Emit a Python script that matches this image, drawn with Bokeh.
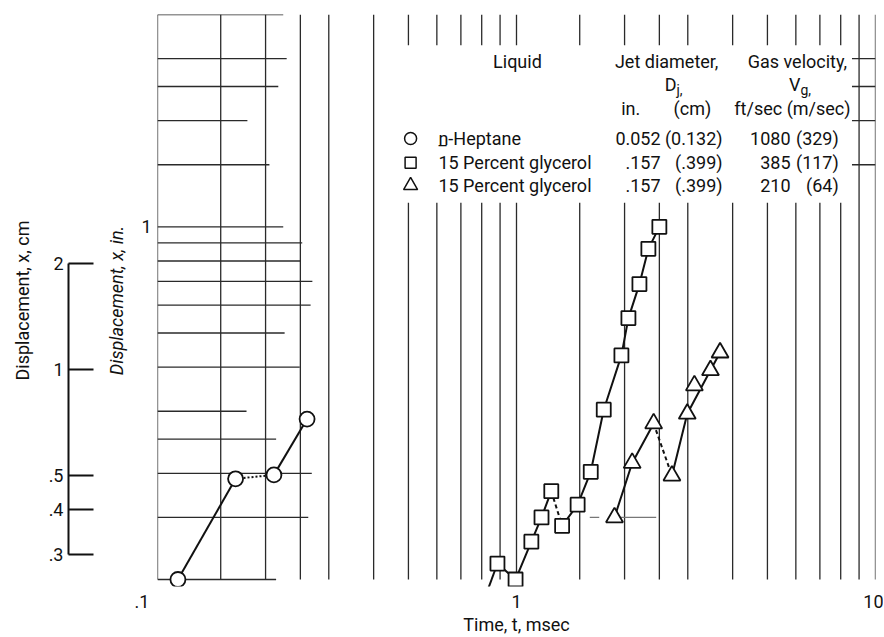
from bokeh.plotting import figure
from bokeh.models import Range1d, LogAxis, LinearAxis, LogScale, FixedTicker
from bokeh.core.properties import value
from bokeh.embed import file_html
from bokeh.resources import INLINE

# ---------------- data: time t (msec) vs displacement x (in.) ----------------
heptane_t = [0.114, 0.165, 0.211, 0.261]
heptane_x = [0.100, 0.193, 0.198, 0.285]

gly385_t = [0.885, 0.994, 1.10, 1.174, 1.25, 1.34, 1.48, 1.61, 1.75, 1.96, 2.05, 2.20, 2.33, 2.50]
gly385_x = [0.111, 0.100, 0.128, 0.150, 0.178, 0.142, 0.163, 0.202, 0.303, 0.432, 0.551, 0.688, 0.866, 1.00]
gly385_lead_t = [0.814]   # line enters from below the chart
gly385_lead_x = [0.088]

gly210_t = [1.875, 2.10, 2.41, 2.71, 2.99, 3.13, 3.47, 3.69]
gly210_x = [0.150, 0.214, 0.277, 0.197, 0.295, 0.355, 0.392, 0.440]

# line runs (indices into the series)
heptane_solid = [[0, 1], [2, 3]]
heptane_dotted = [[1, 2]]
gly385_solid = [[0, 1, 2, 3, 4], [5, 6, 7, 8, 9, 10, 11, 12, 13]]
gly385_dashed = [[4, 5]]
gly210_solid = [[0, 1, 2], [3, 4, 6, 7]]
gly210_dashed = [[2, 3]]

# legend table
legend_markers = ["circle", "square", "triangle"]
legend_liquids = ["n-Heptane", "15 Percent glycerol", "15 Percent glycerol"]
legend_dj_in = ["0.052", ".157", ".157"]
legend_dj_cm = ["(0.132)", "(.399)", "(.399)"]
legend_vg_fts = ["1080", "385", "210"]
legend_vg_ms = ["(329)", "(117)", "(64)"]

# axes
x_ticks = [0.1, 1, 10]
x_tick_labels = {0.1: ".1", 1: "1", 10: "10"}
y_in_ticks = [1]
cm_ticks = [0.3, 0.4, 0.5, 1, 2]
cm_labels = {0.3: ".3", 0.4: ".4", 0.5: ".5", 1: "1", 2: "2"}
CM_PER_IN = 2.54

# grid (partial, as printed)
grid_t_full = [0.1, 0.15, 0.2, 0.25, 0.3, 0.4, 9, 10]
grid_t_broken = [0.5, 0.6, 0.7, 0.8, 0.9, 1, 1.5, 2, 2.5, 3, 4, 5, 6, 7, 8]
grid_rows = [0.1, 0.15, 0.2, 0.25, 0.3, 0.4, 0.5, 0.6, 0.7, 0.8, 0.9, 1, 1.5, 2, 2.5, 3, 4]
grid_row_end = [0.214, 0.263, 0.269, 0.214, 0.177, 0.249, 0.226, 0.267, 0.27, 0.25, 0.253,
                0.224, 0.205, 0.178, 0.217, 0.229, 0.224]
grid_rows_right = [1.5, 2, 2.5, 3]

# ---------------- figure ----------------
Y_LO, Y_HI = 0.09554, 4.0
FONT = value("Roboto")
INK = "#111111"
GRID = "#2a2a2a"

p = figure(width=883, height=637, x_axis_type="log", y_axis_type="log",
           x_range=Range1d(0.1, 10), y_range=Range1d(Y_LO, Y_HI),
           output_backend="svg", toolbar_location=None,
           min_border_left=157, min_border_right=8, min_border_top=14, min_border_bottom=51)
p.outline_line_color = None
p.grid.visible = False
p.background_fill_color = "white"

# grid segments
x0, y0, x1, y1 = [], [], [], []
for t in grid_t_full:
    x0.append(t); y0.append(0.1); x1.append(t); y1.append(4.0)
for t in grid_t_broken:
    x0 += [t, t]; y0 += [0.1, 3.27]; x1 += [t, t]; y1 += [1.17, 4.0]
for yv, te in zip(grid_rows, grid_row_end):
    x0.append(0.1); y0.append(yv); x1.append(te); y1.append(yv)
for yv in grid_rows_right:
    x0.append(8.6); y0.append(yv); x1.append(10); y1.append(yv)
p.segment(x0=x0, y0=y0, x1=x1, y1=y1, line_color=GRID, line_width=1.3)
# faint remnant of the 0.15 grid row near the triangles
p.segment(x0=[1.88], y0=[0.15], x1=[2.45], y1=[0.15], line_color="#777777", line_width=1.2)
p.segment(x0=[1.6], y0=[0.15], x1=[1.7], y1=[0.15], line_color="#777777", line_width=1.2)


def runs(ts, xs, groups, dash):
    for g in groups:
        p.line([ts[i] for i in g], [xs[i] for i in g], line_color=INK, line_width=2.0,
               line_dash=dash)


runs(heptane_t, heptane_x, heptane_solid, "solid")
runs(heptane_t, heptane_x, heptane_dotted, "2 2")
p.line(gly385_lead_t + [gly385_t[0]], gly385_lead_x + [gly385_x[0]], line_color=INK, line_width=2.0)
runs(gly385_t, gly385_x, gly385_solid, "solid")
runs(gly385_t, gly385_x, gly385_dashed, "4 3")
runs(gly210_t, gly210_x, gly210_solid, "solid")
runs(gly210_t, gly210_x, gly210_dashed, "4 3")

p.scatter(heptane_t, heptane_x, marker="circle", size=15, fill_color="white",
          line_color=INK, line_width=1.8)
p.scatter(gly385_t, gly385_x, marker="square", size=14, fill_color="white",
          line_color=INK, line_width=1.8)
p.scatter(gly210_t, gly210_x, marker="triangle", size=17, fill_color="white",
          line_color=INK, line_width=1.8)

# ---------------- legend table ----------------
rows_y = [1.78, 1.52, 1.31]
TXT = dict(text_font=FONT, text_font_size="18px", text_color=INK, text_baseline="middle")

p.scatter([0.507] * 3, rows_y, marker=legend_markers, size=[12, 11, 14],
          fill_color="white", line_color=INK, line_width=1.5)
p.text(x=[0.606] * 3, y=rows_y, text=legend_liquids, text_align="left", **TXT)
p.text(x=[0.606], y=[rows_y[0]], text=["_"], text_align="left", **TXT)
p.text(x=[2.52] * 3, y=rows_y, text=legend_dj_in, text_align="right", **TXT)
p.text(x=[3.75] * 3, y=rows_y, text=legend_dj_cm, text_align="right", **TXT)
p.text(x=[5.8] * 3, y=rows_y, text=legend_vg_fts, text_align="right", **TXT)
p.text(x=[7.9] * 3, y=rows_y, text=legend_vg_ms, text_align="right", **TXT)

p.text(x=[1.006, 2.62, 6.06], y=[2.94] * 3, text=["Liquid", "Jet diameter,", "Gas velocity,"],
       text_align="center", **TXT)
p.text(x=[2.79, 6.18], y=[2.53] * 2, text=["D", "V"], text_align="right", **TXT)
p.text(x=[2.79, 6.18], y=[2.53] * 2, text=["j,", "g,"], text_align="left", y_offset=5,
       text_font=FONT, text_font_size="14px", text_color=INK, text_baseline="middle")
p.text(x=[2.08, 3.09, 5.87], y=[2.16] * 3, text=["in.", "(cm)", "ft/sec (m/sec)"],
       text_align="center", **TXT)

# ---------------- axes ----------------
NBSP = "\u00a0"
xa = p.xaxis[0]
xa.ticker = FixedTicker(ticks=x_ticks)
xa.major_label_overrides = {0.1: x_tick_labels[0.1] + NBSP * 7, 1: x_tick_labels[1],
                            10: x_tick_labels[10]}
xa.axis_line_color = None
xa.major_tick_line_color = None
xa.minor_tick_line_color = None
xa.major_label_standoff = -2
xa.major_label_text_font = "Roboto"
xa.major_label_text_font_size = "18px"
xa.major_label_text_color = INK
xa.axis_label = "Time, t, msec"
xa.axis_label_standoff = -1
xa.axis_label_text_font = "Roboto"
xa.axis_label_text_font_size = "18px"
xa.axis_label_text_font_style = "normal"
xa.axis_label_text_color = INK

ya = p.yaxis[0]
ya.ticker = FixedTicker(ticks=y_in_ticks)
ya.major_label_overrides = {1: "1"}
ya.axis_line_color = None
ya.major_tick_line_color = None
ya.minor_tick_line_color = None
ya.major_label_standoff = 0
ya.major_label_text_font = "Roboto"
ya.major_label_text_font_size = "18px"
ya.major_label_text_color = INK
ya.axis_label = "Displacement, x, in."
ya.axis_label_standoff = 11
ya.axis_label_text_font = "Roboto"
ya.axis_label_text_font_size = "18px"
ya.axis_label_text_font_style = "italic"
ya.axis_label_text_color = INK

# invisible spacer so that the cm scale sits further left
spacer = LinearAxis(ticker=FixedTicker(ticks=[1]), major_label_overrides={1: ""},
                    axis_line_color=None, major_tick_line_color=None,
                    minor_tick_line_color=None, major_tick_in=0, major_tick_out=35,
                    major_label_standoff=0, major_label_text_font_size="1px")
p.add_layout(spacer, "left")

p.extra_y_ranges = {"cm": Range1d(Y_LO * CM_PER_IN, Y_HI * CM_PER_IN)}
p.extra_y_scales = {"cm": LogScale()}
cm_axis = LogAxis(y_range_name="cm", ticker=FixedTicker(ticks=cm_ticks),
                  major_label_overrides=cm_labels, bounds=(0.3, 2),
                  axis_line_color=INK, axis_line_width=2,
                  major_tick_in=25, major_tick_out=0, major_tick_line_color=INK,
                  major_tick_line_width=2, minor_tick_line_color=None,
                  major_label_standoff=5, major_label_text_font="Roboto",
                  major_label_text_font_size="18px", major_label_text_color=INK,
                  axis_label="Displacement, x, cm", axis_label_standoff=13,
                  axis_label_text_font="Roboto", axis_label_text_font_size="18px",
                  axis_label_text_font_style="normal", axis_label_text_color=INK)
p.add_layout(cm_axis, "left")

open("out.html", "w").write(file_html(p, INLINE))
